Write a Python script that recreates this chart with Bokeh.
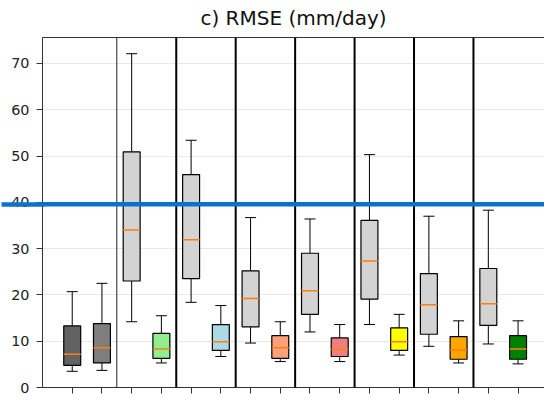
from bokeh.plotting import figure
from bokeh.models import Range1d, FixedTicker, Span, LinearAxis
from bokeh.embed import file_html
from bokeh.resources import INLINE

# ---- data ----
positions = list(range(1, 17))
whisker_low = [3.5, 3.7, 14.2, 5.3, 18.4, 6.7, 9.6, 5.6, 12.0, 5.6, 13.6, 7.0, 8.9, 5.3, 9.4, 5.1]
q1 = [4.8, 5.3, 23.0, 6.3, 23.5, 8.0, 13.1, 6.3, 15.8, 6.7, 19.1, 8.0, 11.5, 6.1, 13.4, 6.1]
median = [7.2, 8.6, 34.0, 8.3, 31.9, 9.9, 19.2, 8.6, 20.9, 8.2, 27.3, 9.9, 17.9, 8.1, 18.1, 8.3]
q3 = [13.3, 13.8, 50.9, 11.7, 46.0, 13.6, 25.2, 11.2, 29.0, 10.7, 36.1, 12.9, 24.6, 11.0, 25.7, 11.2]
whisker_high = [20.7, 22.5, 72.1, 15.5, 53.4, 17.7, 36.7, 14.2, 36.4, 13.6, 50.3, 15.8, 37.0, 14.4, 38.3, 14.4]
box_colors = ["#626262", "#7e7e7e",
              "#d3d3d3", "#90ee90",
              "#d3d3d3", "#add8e6",
              "#d3d3d3", "#ffa07a",
              "#d3d3d3", "#f08080",
              "#d3d3d3", "#ffff00",
              "#d3d3d3", "#ffa500",
              "#d3d3d3", "#008000"]
y_ticks = [0, 10, 20, 30, 40, 50, 60, 70]
thin_separators = [2.5]
thick_separators = [4.5, 6.5, 8.5, 10.5, 12.5, 14.5]
marker_level = 39.6
title_text = "c) RMSE (mm/day)"

BOX_W = 0.57
CAP_HALF = 0.185
FONT = "DejaVu Sans"
X_MIN, X_MAX = 0, 16.89
Y_MAX = 75.6
BLUE = "#0a72cc"
SPINE = "#333333"

p = figure(width=544, height=400, output_backend="svg", toolbar_location=None,
           x_range=Range1d(X_MIN, X_MAX), y_range=Range1d(0, Y_MAX),
           min_border_left=42, min_border_right=0, min_border_top=37, min_border_bottom=13)
p.outline_line_color = None
p.background_fill_color = "white"
p.border_fill_color = "white"

# grid
p.xgrid.visible = False
p.ygrid.ticker = FixedTicker(ticks=y_ticks)
p.ygrid.grid_line_color = "#e8e8e8"
p.ygrid.grid_line_width = 1

# axes
p.yaxis.ticker = FixedTicker(ticks=y_ticks)
p.yaxis.major_label_text_font = FONT
p.yaxis.major_label_text_font_size = "14.4px"
p.yaxis.major_label_text_color = "#222222"
p.yaxis.major_tick_out = 6
p.yaxis.major_tick_in = 0
p.yaxis.minor_tick_line_color = None
p.yaxis.major_label_standoff = 7
p.yaxis.axis_line_color = SPINE
p.yaxis.major_tick_line_color = SPINE

p.xaxis.ticker = FixedTicker(ticks=positions)
p.xaxis.major_label_text_color = None
p.xaxis.major_label_text_font_size = "1px"
p.xaxis.major_label_standoff = 0
p.xaxis.major_tick_out = 6
p.xaxis.major_tick_in = 0
p.xaxis.minor_tick_line_color = None
p.xaxis.axis_line_color = SPINE
p.xaxis.major_tick_line_color = SPINE

# top spine + title, as an axis above the frame with no ticks
top_axis = LinearAxis(ticker=FixedTicker(ticks=[]), axis_line_color=SPINE,
                      major_tick_line_color=None, major_tick_out=0, major_tick_in=0,
                      minor_tick_line_color=None, major_label_text_color=None,
                      major_label_text_font_size="1px", major_label_standoff=0,
                      axis_label=title_text, axis_label_text_font=FONT,
                      axis_label_text_font_size="20px", axis_label_text_font_style="normal",
                      axis_label_text_color="#111111", axis_label_standoff=8)
p.add_layout(top_axis, "above")

# whiskers
p.segment(x0=positions, y0=q3, x1=positions, y1=whisker_high, line_color="black", line_width=1)
p.segment(x0=positions, y0=q1, x1=positions, y1=whisker_low, line_color="black", line_width=1)
# caps
cap_x0 = [x - CAP_HALF for x in positions]
cap_x1 = [x + CAP_HALF for x in positions]
p.segment(x0=cap_x0, y0=whisker_high, x1=cap_x1, y1=whisker_high, line_color="black", line_width=1)
p.segment(x0=cap_x0, y0=whisker_low, x1=cap_x1, y1=whisker_low, line_color="black", line_width=1)
# boxes
p.vbar(x=positions, width=BOX_W, bottom=q1, top=q3, fill_color=box_colors,
       line_color="black", line_width=1.2)
# medians
med_x0 = [x - BOX_W / 2 for x in positions]
med_x1 = [x + BOX_W / 2 for x in positions]
p.segment(x0=med_x0, y0=median, x1=med_x1, y1=median, line_color="#ff7f0e", line_width=1.5)

# group separators
for s in thin_separators:
    p.add_layout(Span(location=s, dimension="height", line_color="#222222", line_width=1))
for s in thick_separators:
    p.add_layout(Span(location=s, dimension="height", line_color="black", line_width=2))

# blue horizontal marker: inside the frame ...
p.add_layout(Span(location=marker_level, dimension="width", line_color=BLUE,
                  line_width=4.5, level="overlay"))
# ... and continued across the y-axis strip by a tick of an extra (label-less) axis
marker_axis = LinearAxis(ticker=FixedTicker(ticks=[marker_level]), axis_line_color=None,
                         major_tick_line_color=BLUE, major_tick_line_width=4.5,
                         major_tick_out=7, major_tick_in=36,
                         minor_tick_line_color=None, major_label_text_color=None,
                         major_label_text_font_size="1px", major_label_standoff=0,
                         major_label_overrides={marker_level: ""})
p.add_layout(marker_axis, "left")

open("out.html", "w").write(file_html(p, INLINE))
